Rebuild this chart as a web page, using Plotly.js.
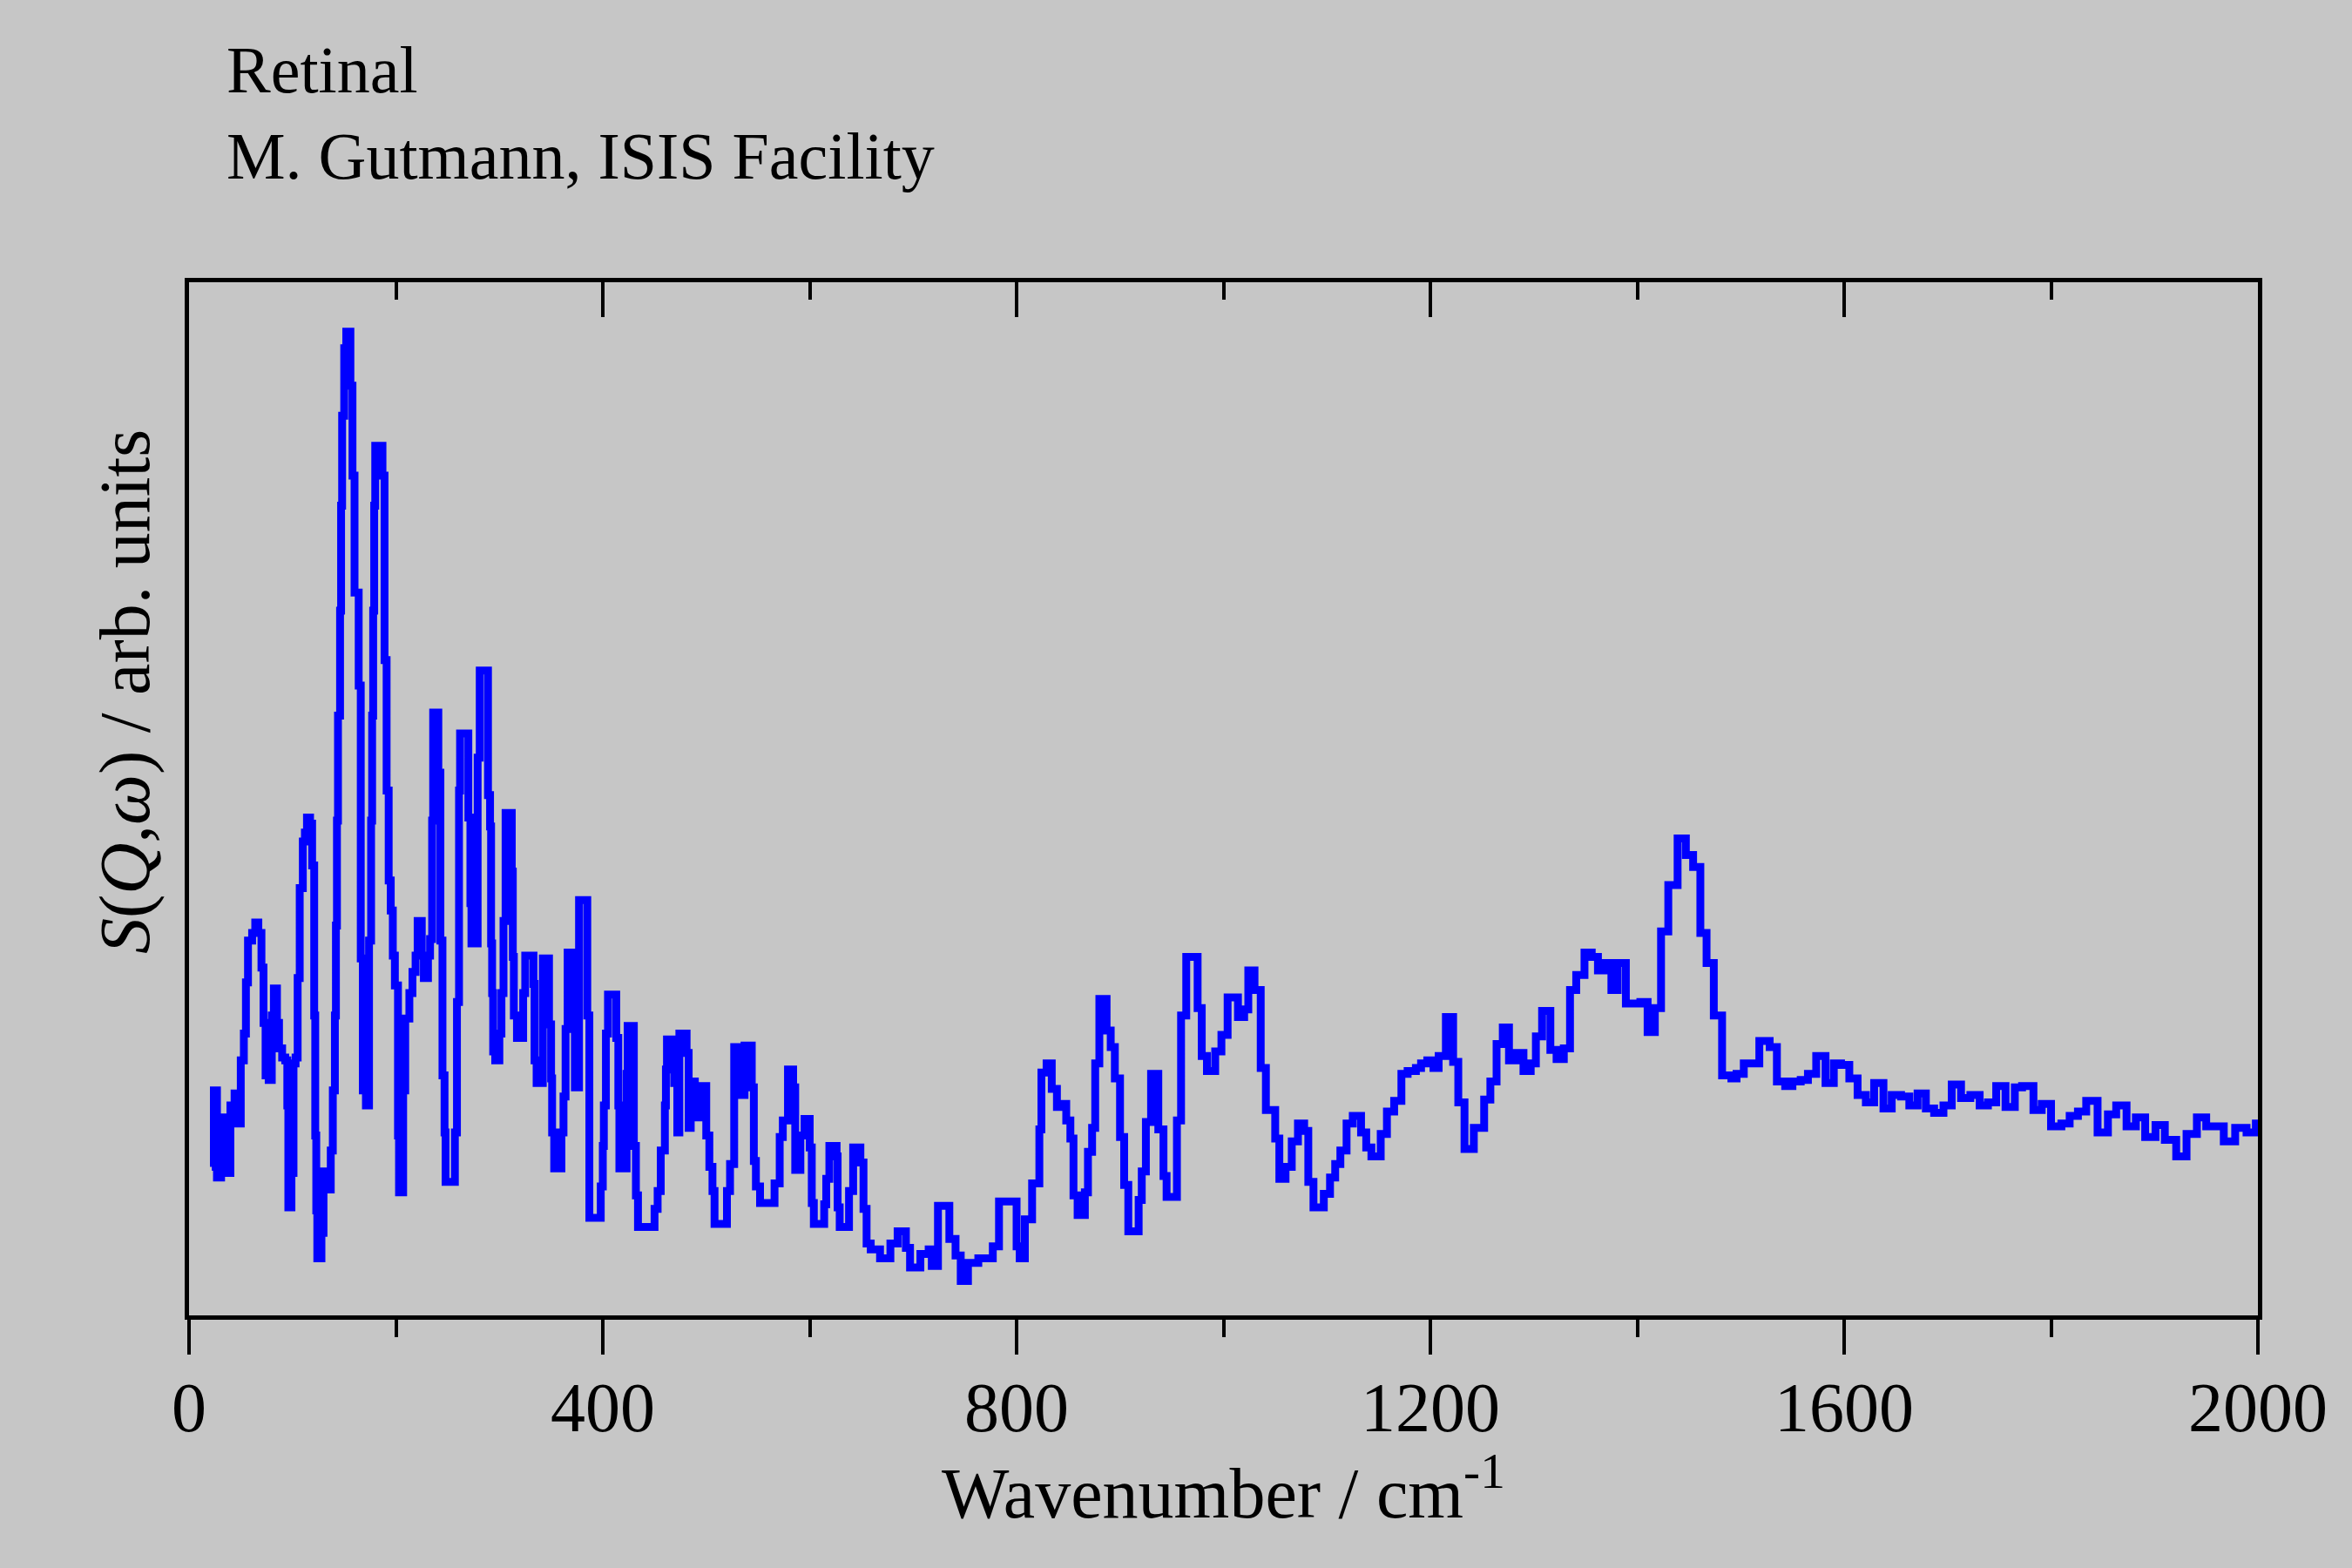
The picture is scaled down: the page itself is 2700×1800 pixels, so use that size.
<!DOCTYPE html>
<html>
<head>
<meta charset="utf-8">
<script src="https://cdn.plot.ly/plotly-3.0.1.min.js"></script>
<style>
  html, body { margin: 0; padding: 0; background: #c6c6c6; }
  #chart { width: 2700px; height: 1800px; }
</style>
</head>
<body>
<div id="chart"></div>
<script>
// INS spectrum of retinal (histogram bins, left edges)
const wavenumber = [
  22, 24, 27, 31, 35, 40, 44, 47, 50, 53, 55, 57, 61, 64, 67, 70, 72, 74, 77, 80,
  82, 85, 87, 90, 93, 95, 96, 99, 101, 103, 105, 107, 110, 112, 114, 117, 119, 121, 122, 123,
  124, 128, 130, 134, 137, 139, 141, 142, 143, 144, 146, 147, 148, 150, 152, 156, 158, 160, 164, 166,
  168, 171, 174, 176, 177, 178, 179, 180, 187, 189, 191, 193, 195, 197, 199, 202, 203, 207, 209, 213,
  216, 219, 221, 225, 227, 231, 233, 235, 236, 241, 243, 245, 247, 248,
  257, 259, 261, 262, 270, 272, 273, 279, 281, 289, 291, 292, 293, 294, 296, 300, 302, 304, 306, 312,
  313, 314, 317, 323, 325, 333, 334, 336, 342, 348, 350, 351, 353, 360, 362, 364, 366, 373, 377, 385,
  387, 398, 400, 401, 403, 405, 413, 415, 416, 423, 424, 430, 432, 434, 450, 453, 456, 460, 461, 462,
  469, 472, 474, 481, 483, 485,
  489, 495, 500, 503, 506, 508, 520, 523, 527, 533, 537, 544, 546, 548, 552, 566, 571, 574, 579, 584,
  586, 591, 595, 600, 602, 604, 614, 616, 619, 626, 627, 629, 638, 642, 649, 652, 655, 659, 668, 678,
  685, 693, 697, 707, 715, 718, 724, 735, 741, 746, 753, 763, 777, 783, 800, 803, 808, 815,
  822, 824, 829, 834, 839, 844, 848, 852, 855, 859, 866, 869, 873, 876, 880, 887, 891, 895, 900, 904,
  908, 918, 921, 925, 930, 937, 942, 945, 955, 959, 964, 975, 979, 984, 992, 998, 1004, 1014, 1020, 1024,
  1030, 1036, 1041, 1050, 1054, 1060, 1066, 1072, 1078, 1082, 1087, 1097, 1103, 1108, 1113, 1119, 1125, 1133, 1138, 1143,
  1152, 1158, 1165, 1172, 1178, 1186, 1191, 1197, 1203, 1208, 1215, 1222, 1227, 1233, 1242, 1252, 1258, 1264, 1270, 1276,
  1283, 1290, 1297, 1302, 1308, 1316, 1322, 1329, 1335, 1341, 1349, 1356, 1362, 1369, 1375, 1381, 1389, 1403, 1410, 1417,
  1423, 1430, 1439, 1447, 1454, 1461, 1467, 1474, 1482, 1491, 1496, 1503,
  1518, 1528, 1535, 1543, 1550, 1558, 1565, 1573, 1582, 1590, 1597, 1605, 1613, 1621, 1629, 1638, 1646, 1655, 1663, 1671,
  1679, 1687, 1696, 1704, 1713, 1722, 1731, 1739, 1747, 1756, 1765, 1772, 1783, 1791, 1800, 1810, 1818, 1826, 1834, 1845,
  1855, 1863, 1873, 1882, 1891, 1901, 1910, 1921, 1931, 1941, 1950, 1967, 1978, 1989, 1998, 2000
];

const intensity = [
  99, 150, 92, 132, 95, 140, 148, 128, 170, 188, 222, 250, 255, 262, 255, 232, 195, 160, 157, 200,
  218, 195, 178, 172, 170, 140, 72, 95, 168, 172, 225, 285, 316, 322, 332, 328, 300, 200, 120, 70,
  38, 55, 96, 84, 110, 150, 200, 260, 330, 400, 470, 540, 600, 645, 656, 620, 560, 482, 420, 238,
  150, 140, 250, 330, 400, 470, 540, 580, 560, 437, 350, 290, 270, 240, 220, 120, 82, 150, 198, 215,
  229, 240, 263, 240, 225, 240, 251, 330, 402, 362, 250, 160, 122, 89,
  122, 209, 350, 388, 332, 275, 248, 372, 430, 347, 326, 248, 215, 176, 170, 188, 215, 263, 335, 296,
  239, 200, 185, 215, 240, 221, 170, 155, 238, 194, 158, 122, 98, 122, 146, 191, 242, 152, 277, 200,
  65, 86, 113, 140, 188, 214, 185, 140, 98, 161, 193, 113, 80, 59, 71, 83, 110, 140, 164, 184,
  155, 122, 188, 175, 125, 156,
  132, 153, 120, 99, 83, 61, 83, 101, 179, 147, 180, 152, 103, 86, 75, 88, 119, 130, 164, 152,
  97, 120, 131, 112, 75, 61, 74, 91, 113, 106, 72, 59, 83, 112, 102, 71, 48, 44, 38, 48,
  56, 45, 32, 41, 44, 33, 73, 51, 40, 23, 35, 38, 46, 76, 46, 38, 64, 88,
  124, 162, 168, 151, 139, 141, 130, 118, 80, 67, 82, 109, 125, 168, 211, 190, 179, 158, 119, 87,
  56, 77, 96, 129, 161, 124, 93, 79, 130, 200, 239, 205, 173, 163, 176, 187, 212, 199, 204, 230,
  217, 165, 137, 118, 91, 99, 116, 128, 123, 89, 72, 81, 92, 101, 110, 128, 133, 122, 112, 106,
  121, 136, 143, 161, 163, 165, 168, 170, 165, 173, 199, 169, 142, 111, 125, 144, 156, 181, 192, 170,
  175, 163, 168, 186, 203, 177, 171, 178, 217, 227, 242, 239, 230, 235, 217, 235, 208, 209, 189, 205,
  256, 287, 318, 307, 299, 255, 235, 200, 160, 158, 161, 168,
  183, 179, 156, 153, 156, 157, 161, 173, 155, 168, 167, 158, 147, 142, 155, 138, 147, 146, 140, 148,
  138, 135, 140, 154, 145, 147, 140, 142, 153, 139, 152, 153, 137, 141, 126, 128, 133, 136, 143, 122,
  134, 140, 126, 132, 119, 127, 117, 106, 121, 132, 126, 116, 125, 122, 128, 128
];

const xTickVals = [0, 400, 800, 1200, 1600, 2000];
const xTickText = ['0', '400', '800', '1200', '1600', '2000'];

const serif = 'Liberation Serif, Times New Roman, serif';
const bg = '#c6c6c6';

const traces = [
  {
    x: wavenumber,
    y: intensity,
    type: 'scatter',
    mode: 'lines',
    line: { color: '#0000ff', width: 9, shape: 'hv' },
    hoverinfo: 'skip',
    showlegend: false
  },
  {
    // same data on the top axis, only there for the inward ticks
    x: wavenumber,
    y: intensity,
    xaxis: 'x2',
    type: 'scatter',
    mode: 'lines',
    line: { color: 'rgba(0,0,0,0)', width: 0, shape: 'hv' },
    hoverinfo: 'skip',
    showlegend: false
  }
];

const layout = {
  width: 2700,
  height: 1800,
  paper_bgcolor: bg,
  plot_bgcolor: bg,
  margin: { l: 217, r: 108, t: 324, b: 290, pad: 0 },
  font: { family: serif, color: '#000000', size: 80 },
  showlegend: false,
  xaxis: {
    range: [0, 2000],
    tickmode: 'array',
    tickvals: xTickVals,
    ticktext: xTickText,
    ticks: 'outside',
    ticklen: 40,
    tickwidth: 4,
    tickcolor: '#000000',
    minor: { dtick: 200, ticks: 'outside', ticklen: 20, tickwidth: 4, tickcolor: '#000000' },
    tickfont: { family: serif, size: 80, color: '#000000' },
    ticklabelstandoff: -8,
    showline: true,
    linewidth: 5,
    linecolor: '#000000',
    mirror: true,
    showgrid: false,
    zeroline: false
  },
  xaxis2: {
    overlaying: 'x',
    side: 'top',
    range: [0, 2000],
    tickmode: 'array',
    tickvals: xTickVals,
    ticks: 'inside',
    ticklen: 40,
    tickwidth: 4,
    tickcolor: '#000000',
    minor: { dtick: 200, ticks: 'inside', ticklen: 20, tickwidth: 4, tickcolor: '#000000' },
    showticklabels: false,
    showline: false,
    showgrid: false,
    zeroline: false
  },
  yaxis: {
    range: [0, 689],
    showticklabels: false,
    ticks: '',
    showline: true,
    linewidth: 5,
    linecolor: '#000000',
    mirror: true,
    showgrid: false,
    zeroline: false
  },
  annotations: [
    {
      text: 'Retinal<br>M. Gutmann, ISIS Facility',
      xref: 'paper', yref: 'paper',
      x: 0.0173, y: 1.243,
      xanchor: 'left', yanchor: 'top',
      align: 'left',
      showarrow: false,
      font: { family: serif, size: 76, color: '#000000' }
    },
    {
      text: 'Wavenumber / cm<sup>-1</sup>',
      xref: 'paper', yref: 'paper',
      x: 0.5, y: -0.167,
      xanchor: 'center', yanchor: 'middle',
      showarrow: false,
      font: { family: serif, size: 82, color: '#000000' }
    },
    {
      text: '<i>S</i>(<i>Q</i>,<i>ω</i>) / arb. units',
      xref: 'paper', yref: 'paper',
      x: -0.031, y: 0.604,
      xanchor: 'center', yanchor: 'middle',
      textangle: -90,
      showarrow: false,
      font: { family: serif, size: 82, color: '#000000' }
    }
  ]
};

Plotly.newPlot('chart', traces, layout, { displayModeBar: false, staticPlot: true });
</script>
</body>
</html>
